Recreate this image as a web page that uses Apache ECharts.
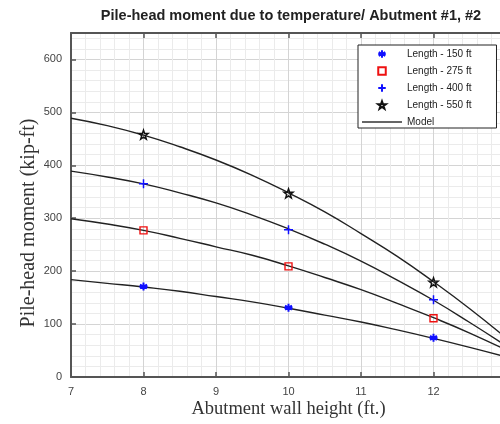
<!DOCTYPE html>
<html><head><meta charset="utf-8">
<script src="https://cdn.jsdelivr.net/npm/echarts@6/dist/echarts.min.js"></script>
<style>html,body{margin:0;padding:0;background:#fff}#c{width:500px;height:424px}</style>
</head><body><div id="c"></div>
<script>
// Measured points (x = abutment wall height, ft)
const xPoints = [8, 10, 12];
const len150 = [171, 131, 74];
const len275 = [277, 209, 111];
const len400 = [365, 278, 146];
const len550 = [458, 347, 179];
// Model curves read along x
const modelX = [7, 7.5, 8, 8.5, 9, 9.5, 10, 10.5, 11, 11.5, 12, 12.5, 13];
const model150 = [184, 177, 170, 162, 152, 142, 130, 117, 104, 89, 73, 56, 38];
const model275 = [299, 289, 277, 262, 246, 230, 210, 188, 165, 139, 112, 83, 51];
const model400 = [389, 378, 365, 348, 329, 306, 280, 251, 219, 183, 145, 103, 59];
const model550 = [489, 475, 457, 435, 410, 381, 348, 312, 271, 228, 180, 129, 74];
const seriesNames = ['Length - 150 ft', 'Length - 275 ft', 'Length - 400 ft', 'Length - 550 ft', 'Model'];
const titleText = 'Pile-head moment due to temperature/ Abutment #1, #2';
const xTitle = 'Abutment wall height (ft.)';
const yTitle = 'Pile-head moment (kip-ft)';

const pair = (xs, ys) => xs.map((x, i) => [x, ys[i]]);
const MAJ = '#d4d4d4', MIN = '#ebebeb', AX = '#555';
const sans = 'Liberation Sans', serif = 'Liberation Serif';

const asterisk = 'path://M0,-5L0,5M-4.33,-2.5L4.33,2.5M-4.33,2.5L4.33,-2.5M-5,0L5,0';
const plus = 'path://M0,-5L0,5M-5,0L5,0';
const star = 'path://M0,-5L1.18,-1.62L4.76,-1.55L1.9,0.62L2.94,4.05L0,2L-2.94,4.05L-1.9,0.62L-4.76,-1.55L-1.18,-1.62Z';
const square = 'path://M0,0L10,0L10,10L0,10Z';
const lineIcon = 'path://M0,0L40,0L40,1.6L0,1.6Z';

const chart = echarts.init(document.getElementById('c'), null, {renderer: 'canvas'});
const isInt = v => Math.abs(v - Math.round(v)) < 1e-6;

function scatter(name, data, symbol, size, color, fill, bw) {
  return {name, type: 'scatter', data, symbol, symbolSize: size, z: 5,
    itemStyle: {color: fill, borderColor: color, borderWidth: bw, opacity: 1},
    emphasis: {disabled: true}};
}
function model(data) {
  return {name: 'Model', type: 'line', data, smooth: 0.5, symbol: 'none', showSymbol: false,
    lineStyle: {color: '#222', width: 1.4}, itemStyle: {color: '#333'}, z: 3};
}

chart.setOption({
  animation: false,
  backgroundColor: '#fff',
  title: {text: titleText, left: 286, top: 3, textAlign: 'center',
    textStyle: {fontFamily: sans, fontSize: 14.5, fontWeight: 'bold', color: '#222'}},
  grid: {left: 71, right: -6, top: 33, bottom: 47, containLabel: false, outerBoundsMode: 'none'},
  legend: {
    orient: 'vertical', left: 358, top: 45, itemWidth: 40, itemHeight: 7.5, itemGap: 7,
    padding: [4, 25, 1, 4], borderColor: '#222', borderWidth: 1, backgroundColor: '#fff',
    textStyle: {fontFamily: sans, fontSize: 10, color: '#222'},
    data: [
      {name: seriesNames[0]},
      {name: seriesNames[1], icon: square},
      {name: seriesNames[2]},
      {name: seriesNames[3]},
      {name: seriesNames[4], icon: lineIcon}
    ],
    selectedMode: false
  },
  xAxis: [
    {type: 'value', position: 'bottom', min: 7, max: 13, interval: 0.2,
      axisLine: {show: true, onZero: false, lineStyle: {color: AX, width: 2}},
      axisTick: {show: false},
      axisLabel: {formatter: v => isInt(v) ? String(Math.round(v)) : '', color: '#444', fontSize: 11, fontFamily: sans, margin: 9},
      splitLine: {show: true, lineStyle: {color: [MAJ, MIN, MIN, MIN, MIN], width: 1}},
      name: xTitle, nameLocation: 'middle', nameGap: 23, nameMoveOverlap: false,
      nameTextStyle: {fontFamily: serif, fontSize: 18.5, color: '#333'}},
    {type: 'value', position: 'bottom', min: 7, max: 13, interval: 1,
      axisLine: {show: false}, axisTick: {show: true, inside: true, length: 5, lineStyle: {color: AX, width: 1.5}},
      axisLabel: {show: false}, splitLine: {show: false}},
    {type: 'value', position: 'top', min: 7, max: 13, interval: 1,
      axisLine: {show: true, onZero: false, lineStyle: {color: AX, width: 2}},
      axisTick: {show: true, inside: true, length: 5, lineStyle: {color: AX, width: 1.5}},
      axisLabel: {show: false}, splitLine: {show: false}}
  ],
  yAxis: [
    {type: 'value', position: 'left', min: 0, max: 650, interval: 20,
      axisLine: {show: true, onZero: false, lineStyle: {color: AX, width: 2}},
      axisTick: {show: false},
      axisLabel: {formatter: v => (v % 100 === 0) ? String(v) : '', color: '#444', fontSize: 11, fontFamily: sans, margin: 9},
      splitLine: {show: true, lineStyle: {color: [MAJ, MIN, MIN, MIN, MIN], width: 1}},
      name: yTitle, nameLocation: 'middle', nameGap: 32, nameRotate: 90, nameMoveOverlap: false,
      nameTextStyle: {fontFamily: serif, fontSize: 20, color: '#333', padding: [0, 36, 0, 0]}},
    {type: 'value', position: 'left', min: 0, max: 650, interval: 100,
      axisLine: {show: false}, axisTick: {show: true, inside: true, length: 5, lineStyle: {color: AX, width: 1.5}},
      axisLabel: {show: false}, splitLine: {show: false}}
  ],
  series: [
    scatter(seriesNames[0], pair(xPoints, len150), asterisk, 8, '#1010ff', 'rgba(0,0,0,0)', 2),
    scatter(seriesNames[1], pair(xPoints, len275), 'rect', 7, '#ee1111', 'rgba(255,255,255,0)', 1.4),
    scatter(seriesNames[2], pair(xPoints, len400), plus, 9, '#1010ff', 'rgba(0,0,0,0)', 1.5),
    scatter(seriesNames[3], pair(xPoints, len550), star, 9, '#111', 'rgba(0,0,0,0)', 1.5),
    model(pair(modelX, model150)),
    model(pair(modelX, model275)),
    model(pair(modelX, model400)),
    model(pair(modelX, model550))
  ]
});
</script></body></html>
